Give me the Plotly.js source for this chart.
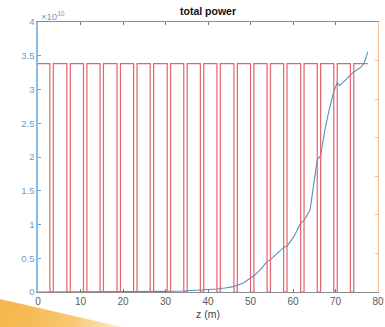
<!DOCTYPE html>
<html>
<head>
<meta charset="utf-8">
<script src="https://cdn.plot.ly/plotly-3.0.1.min.js"></script>
<style>
  html, body { margin: 0; padding: 0; background: #ffffff; }
  #wrap { position: relative; width: 385px; height: 327px; overflow: hidden; }
  #chart { width: 385px; height: 327px; }
  #wedge {
    position: absolute; left: 0; top: 0; width: 385px; height: 327px;
    pointer-events: none;
    background: linear-gradient(95deg, #f5b447 0%, #f6bb55 14%, #f8c770 24%, #fbdca6 31%, #fdeccf 36%);
    clip-path: polygon(0px 299px, 122px 327px, 0px 327px);
  }
</style>
</head>
<body>
<div id="wrap">
  <div id="chart"></div>
  <div id="wedge"></div>
</div>
<script>
// Total radiated power along the undulator line (left axis, x 1e10)
const zPower = [0, 5, 10, 15, 20, 25, 30, 34, 38, 42, 44, 46, 48.2, 50.0, 50.8,
                52.0, 53.9, 54.7, 56.9, 57.8, 58.6, 60.2, 61.8, 62.6, 64.0,
                65.7, 66.5, 67.5, 68.5, 69.6, 70.4, 71.0, 72.0, 73.5, 74.3,
                76.0, 76.8, 77.6];
const power = [0, 0, 0.002, 0.003, 0.004, 0.006, 0.01, 0.015, 0.025, 0.045, 0.06,
               0.08, 0.13, 0.2, 0.24, 0.31, 0.45, 0.48, 0.6, 0.66, 0.68, 0.82,
               1.02, 1.06, 1.21, 1.96, 2.02, 2.4, 2.7, 2.97, 3.1, 3.06, 3.12,
               3.22, 3.26, 3.33, 3.4, 3.56];

// Undulator segments: gaps between modules (right axis, strength K)
const gapStart = [2.8, 6.8, 10.7, 14.6, 18.6, 22.5, 26.4, 30.4, 34.3, 38.2,
                  42.1, 46.1, 50.0, 53.9, 57.8, 61.8, 65.7, 69.6, 73.5];
const gapEnd   = [3.6, 7.6, 11.5, 15.4, 19.4, 23.3, 27.2, 31.2, 35.1, 39.0,
                  42.9, 46.9, 50.8, 54.7, 58.6, 62.6, 66.5, 70.4, 74.3];
const kValue = 2.96;
const zLatticeEnd = 77.6;

const yTicks = [0, 0.5, 1, 1.5, 2, 2.5, 3, 3.5, 4];
const yTickText = ['0', '0.5', '1', '1.5', '2', '2.5', '3', '3.5', '4'];
const xTicks = [0, 10, 20, 30, 40, 50, 60, 70, 80];

// step profile of K along z
const zK = [0], kK = [kValue];
for (let i = 0; i < gapStart.length; i++) {
  zK.push(gapStart[i], gapStart[i], gapEnd[i], gapEnd[i]);
  kK.push(kValue, 0, 0, kValue);
}
zK.push(zLatticeEnd); kK.push(kValue);

const font = 'Liberation Sans, Arial, Helvetica, sans-serif';
const blueAxis = '#86bde8';
const blueText = '#6d9cc4';
const orangeAxis = '#f3bd98';

const traces = [
  {
    x: zPower, y: power, type: 'scatter', mode: 'lines',
    line: { color: '#4f93bd', width: 1.1 },
    yaxis: 'y', hoverinfo: 'skip'
  },
  {
    x: zK, y: kK, type: 'scatter', mode: 'lines',
    line: { color: '#e2646c', width: 1.2 },
    yaxis: 'y2', hoverinfo: 'skip'
  }
];

const layout = {
  width: 385, height: 327,
  margin: { l: 38, r: 7, t: 22, b: 35, pad: 0 },
  paper_bgcolor: '#ffffff', plot_bgcolor: '#ffffff',
  showlegend: false,
  font: { family: font, size: 9, color: '#555' },
  title: {
    text: '<b>total power</b>',
    font: { family: font, size: 10.5, color: '#111' },
    x: 0.5, xref: 'paper', xanchor: 'center',
    y: 0.966, yref: 'container', yanchor: 'middle'
  },
  xaxis: {
    range: [0, 80], tickvals: xTicks, ticktext: xTicks.map(String),
    ticks: 'inside', ticklen: 3, tickcolor: '#777', tickwidth: 1,
    showline: true, linecolor: '#8c8c8c', linewidth: 1, mirror: 'ticks',
    showgrid: false, zeroline: false,
    tickfont: { family: font, size: 10, color: '#5a5a5a' },
    title: { text: 'z (m)', font: { family: font, size: 10.5, color: '#444' }, standoff: 4 }
  },
  yaxis: {
    range: [0, 4], tickvals: yTicks, ticktext: yTickText,
    ticks: 'inside', ticklen: 3, tickcolor: blueText, tickwidth: 1,
    showline: true, linecolor: blueAxis, linewidth: 1.6,
    showgrid: false, zeroline: false,
    tickfont: { family: font, size: 9.5, color: blueText }
  },
  yaxis2: {
    range: [0, 3.5], dtick: 0.5, overlaying: 'y', side: 'right',
    ticks: 'inside', ticklen: 3, tickcolor: orangeAxis, tickwidth: 1,
    showline: true, linecolor: orangeAxis, linewidth: 1.2,
    showticklabels: false, showgrid: false, zeroline: false
  },
  annotations: [
    {
      text: '\u00d710<sup>10</sup>', xref: 'paper', yref: 'paper',
      x: 0.0, y: 1.0, xanchor: 'left', yanchor: 'bottom', xshift: 1, yshift: -2,
      showarrow: false, font: { family: font, size: 9.5, color: blueText }
    }
  ]
};

Plotly.newPlot('chart', traces, layout, { staticPlot: true, displayModeBar: false });
</script>
</body>
</html>
